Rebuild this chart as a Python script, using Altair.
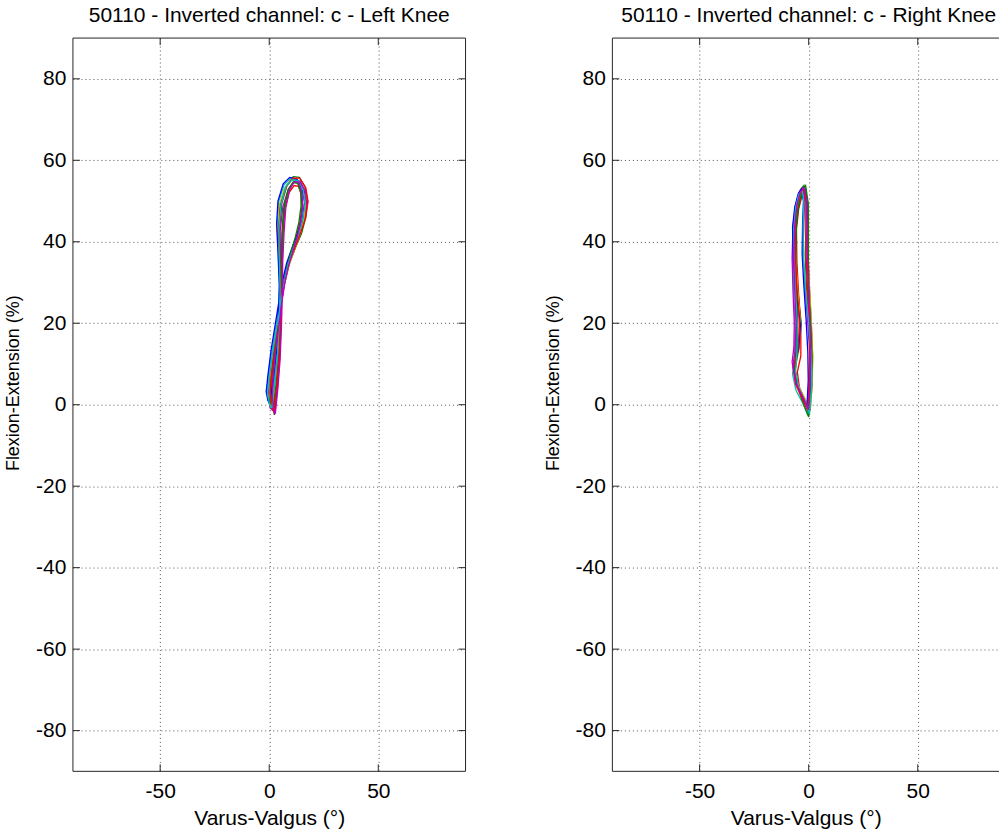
import altair as alt
import pandas as pd

# ---------------- data ----------------
PANELS = ["Left Knee", "Right Knee"]
TITLE_PREFIX = "50110 - Inverted channel: c - "
X_TITLE = "Varus-Valgus (°)"
Y_TITLE = "Flexion-Extension (%)"
X_TICKS = [-50, 0, 50]
Y_TICKS = [-80, -60, -40, -20, 0, 20, 40, 60, 80]
Y_DOMAIN = [-90, 90]
X_DOMAIN_LEFT = [-90, 90]
X_DOMAIN_RIGHT = [-90, 87.25]   # right panel is cut by the picture's edge
COLORS = ["#0000FF", "#008000", "#FF0000", "#00BFBF", "#BF00BF", "#BFBF00", "#404040"]

# Left knee: one pair of lists per gait cycle (Varus-Valgus x, Flexion-Extension y)
L_X1 = [2.0, 3.5, 4.5, 5.0, 5.2, 4.6, 4.2, 5.0, 7.5, 10.5, 13.5, 16.0, 16.8, 15.6, 13.6, 11.0, 8.5, 6.5, 5.0, 3.2, 1.6, 0.4, 0.0, 0.8, 2.0]
L_Y1 = [-1.0, 5.0, 12.0, 20.0, 28.0, 36.0, 43.0, 49.0, 53.5, 55.3, 55.0, 52.5, 49.0, 45.0, 41.5, 38.0, 34.5, 30.0, 25.0, 19.0, 13.0, 7.0, 2.5, -0.5, -1.0]
L_X2 = [1.0, 2.8, 4.0, 4.6, 5.0, 4.8, 4.8, 5.8, 8.2, 11.0, 13.8, 16.4, 17.6, 16.8, 14.8, 12.0, 9.4, 7.2, 5.6, 4.0, 2.6, 1.2, 0.2, 0.2, 1.0]
L_Y2 = [-0.5, 5.5, 12.5, 20.5, 28.5, 36.5, 43.5, 49.5, 54.0, 56.0, 55.8, 53.5, 50.0, 46.0, 42.0, 38.5, 35.0, 30.5, 25.5, 19.5, 13.5, 7.5, 3.0, 0.5, -0.5]
L_X3 = [2.6, 3.8, 4.8, 5.4, 5.8, 6.0, 6.4, 7.2, 9.0, 11.4, 13.4, 14.8, 15.0, 14.0, 12.4, 10.4, 8.4, 6.8, 5.4, 3.8, 2.4, 1.2, 0.8, 1.6, 2.6]
L_Y3 = [-2.0, 4.5, 11.5, 19.5, 27.5, 35.5, 42.5, 48.0, 52.0, 53.8, 53.6, 51.5, 48.5, 44.5, 41.0, 37.5, 34.0, 29.5, 24.5, 18.5, 12.5, 6.5, 2.0, -1.0, -2.0]
L_X4 = [0.6, 2.4, 3.6, 4.4, 4.8, 4.2, 3.6, 4.4, 6.8, 9.8, 12.8, 15.4, 16.4, 15.4, 13.2, 10.6, 8.2, 6.2, 4.8, 3.0, 1.2, -0.4, -1.0, -0.2, 0.6]
L_Y4 = [0.0, 6.0, 13.0, 21.0, 29.0, 37.0, 44.0, 50.0, 54.0, 55.6, 55.2, 52.8, 49.4, 45.4, 41.8, 38.2, 34.6, 30.0, 25.0, 19.0, 13.0, 7.0, 3.0, 0.5, 0.0]
L_X5 = [1.8, 3.0, 4.0, 4.8, 5.4, 5.2, 5.0, 6.2, 8.8, 11.6, 14.2, 16.6, 17.2, 16.0, 13.8, 11.4, 9.0, 7.0, 5.4, 3.6, 1.8, 0.2, -0.6, 0.4, 1.8]
L_Y5 = [-1.5, 4.5, 11.5, 19.5, 27.5, 35.5, 42.5, 48.5, 53.0, 55.0, 54.8, 52.4, 49.0, 45.0, 41.4, 37.8, 34.2, 29.6, 24.6, 18.6, 12.6, 6.6, 2.2, -0.8, -1.5]
L_X6 = [1.4, 3.0, 4.2, 4.8, 5.2, 4.4, 3.8, 4.6, 7.0, 10.0, 13.0, 15.6, 16.6, 15.8, 14.0, 11.6, 9.2, 7.0, 5.2, 3.4, 1.8, 0.6, 0.2, 0.6, 1.4]
L_Y6 = [-1.0, 5.0, 12.0, 20.0, 28.0, 36.0, 43.0, 49.0, 53.2, 55.2, 55.0, 52.6, 49.2, 45.2, 41.6, 38.0, 34.4, 29.8, 24.8, 18.8, 12.8, 6.8, 2.4, -0.4, -1.0]
L_X7 = [2.4, 3.6, 4.6, 5.2, 5.6, 5.6, 5.8, 6.6, 8.6, 11.0, 13.2, 14.8, 15.2, 14.2, 12.4, 10.2, 8.2, 6.6, 5.4, 4.0, 2.6, 1.6, 1.2, 1.8, 2.4]
L_Y7 = [-2.5, 4.0, 11.0, 19.0, 27.0, 35.0, 42.0, 48.0, 52.6, 54.6, 54.4, 52.0, 48.6, 44.6, 41.0, 37.4, 33.8, 29.2, 24.2, 18.2, 12.2, 6.2, 1.8, -1.2, -2.5]
L_X8 = [0.2, 2.0, 3.4, 4.2, 4.6, 4.0, 3.4, 4.0, 6.4, 9.4, 12.6, 15.2, 16.2, 15.2, 13.0, 10.4, 8.0, 6.0, 4.4, 2.6, 0.8, -0.6, -1.4, -0.6, 0.2]
L_Y8 = [0.5, 6.5, 13.5, 21.5, 29.5, 37.5, 44.5, 50.0, 54.2, 55.8, 55.4, 53.0, 49.6, 45.6, 42.0, 38.4, 34.8, 30.2, 25.2, 19.2, 13.2, 7.2, 3.2, 1.0, 0.5]
L_X9 = [1.6, 3.2, 4.4, 5.2, 5.6, 5.8, 6.2, 7.0, 8.8, 11.0, 13.0, 14.4, 14.6, 13.6, 12.0, 10.0, 8.2, 6.8, 5.4, 3.8, 2.2, 0.8, 0.4, 1.0, 1.6]
L_Y9 = [-1.2, 5.2, 12.2, 20.2, 28.2, 36.2, 43.2, 48.8, 52.8, 54.6, 54.4, 52.2, 48.8, 44.8, 41.2, 37.6, 34.0, 29.4, 24.4, 18.4, 12.4, 6.4, 2.0, -0.8, -1.2]
L_X10 = [2.2, 3.4, 4.4, 5.0, 5.4, 4.8, 4.2, 5.2, 7.8, 10.8, 14.0, 16.8, 17.8, 16.6, 14.4, 11.8, 9.2, 7.0, 5.4, 3.8, 2.2, 1.0, 0.4, 1.2, 2.2]
L_Y10 = [-1.8, 4.8, 11.8, 19.8, 27.8, 35.8, 42.8, 48.8, 53.4, 55.6, 55.6, 53.2, 49.8, 45.8, 42.2, 38.6, 35.0, 30.4, 25.4, 19.4, 13.4, 7.4, 2.8, -0.6, -1.8]
L_X11 = [1.2, 2.6, 3.8, 4.6, 5.0, 4.6, 4.4, 5.4, 7.6, 10.4, 13.2, 15.6, 16.4, 15.2, 13.2, 10.8, 8.6, 6.8, 5.2, 3.4, 1.6, 0.0, -0.8, 0.2, 1.2]
L_Y11 = [-0.8, 5.4, 12.4, 20.4, 28.4, 36.4, 43.4, 49.2, 53.4, 55.2, 55.0, 52.6, 49.2, 45.2, 41.6, 38.0, 34.4, 29.8, 24.8, 18.8, 12.8, 6.8, 2.6, 0.0, -0.8]
L_X12 = [2.8, 4.0, 5.0, 5.6, 6.0, 6.2, 6.8, 7.6, 9.4, 11.6, 13.6, 15.0, 15.4, 14.4, 12.8, 10.8, 8.8, 7.0, 5.6, 4.2, 2.8, 1.8, 1.4, 2.0, 2.8]
L_Y12 = [-2.2, 4.2, 11.2, 19.2, 27.2, 35.2, 42.2, 48.4, 52.8, 54.8, 54.6, 52.2, 48.8, 44.8, 41.2, 37.6, 34.0, 29.4, 24.4, 18.4, 12.4, 6.4, 2.0, -1.0, -2.2]

# Right knee
R_X1 = [0.0, 0.8, 1.0, 0.4, -0.4, -0.8, -0.6, -0.8, -1.8, -3.4, -5.0, -6.0, -6.2, -5.8, -5.2, -5.6, -6.4, -5.0, -2.4, 0.0]
R_Y1 = [-2.0, 5.0, 12.0, 20.0, 28.0, 36.0, 44.0, 50.0, 53.4, 52.4, 49.0, 44.0, 36.0, 28.0, 20.0, 13.0, 9.0, 5.0, 2.0, -2.0]
R_X2 = [-0.6, 0.2, 0.6, 0.0, -1.0, -1.6, -1.2, -1.2, -2.2, -3.8, -5.4, -6.6, -6.4, -5.0, -3.4, -4.4, -7.0, -5.8, -3.0, -0.6]
R_Y2 = [-1.0, 5.5, 13.0, 21.0, 29.0, 37.0, 44.5, 50.5, 53.8, 52.8, 49.5, 44.0, 36.0, 28.0, 20.0, 14.0, 10.0, 5.5, 2.0, -1.0]
R_X3 = [0.6, 1.6, 1.8, 1.2, 0.4, -0.2, -0.2, -0.4, -1.6, -3.0, -4.6, -5.6, -5.4, -4.6, -3.6, -3.6, -5.2, -4.2, -2.0, 0.6]
R_Y3 = [-1.5, 5.0, 12.0, 20.0, 28.0, 36.0, 43.5, 49.5, 52.4, 51.4, 48.0, 43.0, 35.0, 27.0, 19.0, 12.0, 8.0, 4.0, 1.5, -1.5]
R_X4 = [-0.4, 0.8, 1.4, 0.8, -0.2, -1.0, -1.0, -1.2, -2.6, -4.2, -5.8, -7.0, -7.2, -6.8, -6.2, -6.6, -7.4, -5.8, -2.8, -0.4]
R_Y4 = [-2.5, 4.0, 11.0, 19.0, 27.0, 35.0, 43.0, 49.0, 52.4, 51.4, 48.0, 43.0, 35.0, 27.0, 19.0, 12.0, 7.5, 3.5, 0.5, -2.5]
R_X5 = [-0.2, 0.4, 0.4, -0.6, -1.8, -2.6, -2.2, -1.8, -2.8, -4.4, -6.0, -7.2, -7.6, -7.2, -6.6, -6.8, -7.6, -6.2, -3.2, -0.2]
R_Y5 = [-0.5, 6.0, 13.5, 21.5, 29.5, 37.5, 45.0, 50.5, 53.2, 52.2, 49.0, 44.0, 36.0, 28.0, 20.0, 14.0, 10.5, 6.0, 2.5, -0.5]
R_X6 = [0.8, 1.6, 1.8, 1.2, 0.4, -0.4, -0.6, -0.8, -2.0, -3.6, -5.2, -6.2, -6.0, -5.0, -3.8, -4.6, -6.2, -5.0, -2.2, 0.8]
R_Y6 = [-1.0, 5.5, 12.5, 20.5, 28.5, 36.5, 44.0, 50.0, 53.0, 52.0, 48.8, 43.8, 35.8, 27.8, 19.8, 13.0, 9.0, 5.0, 2.0, -1.0]
R_X7 = [0.2, 1.0, 1.2, 0.8, 0.0, -0.4, -0.4, -0.6, -1.8, -3.2, -4.8, -5.8, -6.0, -5.6, -5.0, -5.2, -6.2, -5.0, -2.4, 0.2]
R_Y7 = [-2.0, 4.5, 11.5, 19.5, 27.5, 35.5, 43.5, 49.5, 52.8, 51.8, 48.5, 43.5, 35.5, 27.5, 19.5, 12.5, 8.5, 4.5, 1.0, -2.0]
R_X8 = [-0.8, -0.2, -0.4, -1.2, -2.2, -3.0, -2.8, -2.4, -3.4, -4.8, -6.4, -7.4, -7.0, -5.6, -3.8, -4.6, -6.8, -5.8, -3.2, -0.8]
R_Y8 = [-0.5, 6.0, 13.0, 21.0, 29.0, 37.0, 44.5, 50.0, 52.8, 51.8, 48.5, 43.5, 35.5, 27.5, 19.5, 13.5, 9.5, 5.5, 2.0, -0.5]
R_X9 = [0.0, 1.2, 1.6, 1.0, 0.2, -0.2, -0.2, -0.2, -1.4, -2.8, -4.4, -5.6, -6.0, -5.8, -5.4, -5.8, -6.6, -5.2, -2.6, 0.0]
R_Y9 = [-3.0, 4.0, 11.0, 19.0, 27.0, 35.0, 43.0, 49.5, 53.8, 52.8, 49.5, 44.5, 36.5, 28.5, 20.5, 13.5, 9.0, 4.5, 0.5, -3.0]
R_X10 = [-0.4, 0.2, 0.6, 0.2, -0.6, -1.2, -1.2, -1.2, -2.4, -4.0, -5.6, -6.4, -6.2, -5.2, -4.2, -5.0, -7.0, -6.0, -3.0, -0.4]
R_Y10 = [-1.5, 5.0, 12.5, 20.5, 28.5, 36.5, 44.0, 50.0, 52.8, 51.8, 48.5, 43.5, 35.5, 27.5, 19.5, 13.0, 9.0, 5.0, 1.5, -1.5]
R_X11 = [0.4, 1.4, 1.2, 0.0, -1.4, -2.4, -2.6, -2.2, -3.0, -4.6, -6.0, -6.8, -6.6, -6.0, -5.2, -5.4, -6.0, -4.6, -2.0, 0.4]
R_Y11 = [-2.2, 4.8, 12.0, 20.0, 28.0, 36.0, 43.6, 49.6, 52.6, 51.6, 48.4, 43.4, 35.4, 27.4, 19.4, 12.6, 8.2, 4.2, 1.2, -2.2]
R_X12 = [-0.2, 0.6, 1.0, 0.6, 0.0, -0.6, -0.8, -1.0, -2.2, -3.8, -5.4, -6.4, -6.8, -6.4, -5.8, -6.2, -7.2, -5.6, -2.6, -0.2]
R_Y12 = [-1.2, 5.2, 12.4, 20.4, 28.4, 36.4, 44.2, 50.2, 53.2, 52.2, 49.0, 44.0, 36.0, 28.0, 20.0, 13.4, 9.4, 5.0, 1.8, -1.2]

LEFT_CYCLES = [(L_X1, L_Y1), (L_X2, L_Y2), (L_X3, L_Y3), (L_X4, L_Y4), (L_X5, L_Y5), (L_X6, L_Y6),
               (L_X7, L_Y7), (L_X8, L_Y8), (L_X9, L_Y9), (L_X10, L_Y10), (L_X11, L_Y11), (L_X12, L_Y12)]
RIGHT_CYCLES = [(R_X1, R_Y1), (R_X2, R_Y2), (R_X3, R_Y3), (R_X4, R_Y4), (R_X5, R_Y5), (R_X6, R_Y6),
                (R_X7, R_Y7), (R_X8, R_Y8), (R_X9, R_Y9), (R_X10, R_Y10), (R_X11, R_Y11), (R_X12, R_Y12)]

# ---------------- layout / style ----------------
W_LEFT, W_RIGHT, H = 393, 387, 734
TICK_LEN = 7
FONT = "Liberation Sans"
FS = 21
AXIS_COLOR = "#262626"


def cycles_df(cycles):
    rows = []
    for c, (xs, ys) in enumerate(cycles):
        for i, (x, y) in enumerate(zip(xs, ys)):
            rows.append({"cycle": c, "idx": i, "x": x, "y": y})
    return pd.DataFrame(rows)


n_cyc = len(LEFT_CYCLES)
cyc_domain = list(range(n_cyc))
cyc_range = [COLORS[i % len(COLORS)] for i in cyc_domain]

x_axis = alt.Axis(values=X_TICKS, grid=True, gridDash=[1, 3], gridColor="#555555",
                  gridWidth=1, domain=False, ticks=False, tickSize=0,
                  labelExpr="'' + datum.value",
                  labelFont=FONT, labelFontSize=FS, labelColor="#000000", labelPadding=9.5,
                  title=X_TITLE, titleFont=FONT, titleFontSize=FS, titleFontWeight="normal",
                  titleColor="#000000", titlePadding=6)
y_axis = alt.Axis(values=Y_TICKS, grid=True, gridDash=[1, 3], gridColor="#555555",
                  gridWidth=1, domain=False, ticks=False, tickSize=0,
                  labelExpr="'' + datum.value",
                  labelFont=FONT, labelFontSize=FS, labelColor="#000000", labelPadding=7,
                  title=Y_TITLE, titleFont=FONT, titleFontSize=18, titleFontWeight="normal",
                  titleColor="#000000", titleAngle=270, titleAlign="center",
                  titleBaseline="middle", titleX=-59, titleY=345)


def panel(cycles, name, x_domain, width, right_edge, title_dx):
    def xenc():
        return alt.X("x:Q", scale=alt.Scale(domain=x_domain, nice=False, zero=False), axis=x_axis)

    def yenc():
        return alt.Y("y:Q", scale=alt.Scale(domain=Y_DOMAIN, nice=False, zero=False), axis=y_axis)

    df = cycles_df(cycles)
    lines = alt.Chart(df).mark_line(strokeWidth=1.3, clip=True).encode(
        x=xenc(), y=yenc(),
        color=alt.Color("cycle:N", scale=alt.Scale(domain=cyc_domain, range=cyc_range), legend=None),
        detail="cycle:N",
        order="idx:Q",
    )
    xt = pd.DataFrame({"x": X_TICKS})
    yt = pd.DataFrame({"y": Y_TICKS})
    one = pd.DataFrame({"k": [0]})
    st = dict(color=AXIS_COLOR, strokeWidth=1)
    layers = [
        lines,
        alt.Chart(xt).mark_rule(**st).encode(x=xenc(), y=alt.value(H), y2=alt.value(H - TICK_LEN)),
        alt.Chart(xt).mark_rule(**st).encode(x=xenc(), y=alt.value(0), y2=alt.value(TICK_LEN)),
        alt.Chart(yt).mark_rule(**st).encode(y=yenc(), x=alt.value(0), x2=alt.value(TICK_LEN)),
        # box: top, bottom, left
        alt.Chart(one).mark_rule(**st).encode(x=alt.value(0), x2=alt.value(width), y=alt.value(0)),
        alt.Chart(one).mark_rule(**st).encode(x=alt.value(0), x2=alt.value(width), y=alt.value(H)),
        alt.Chart(one).mark_rule(**st).encode(y=alt.value(0), y2=alt.value(H), x=alt.value(0)),
    ]
    if right_edge:
        layers.append(alt.Chart(yt).mark_rule(**st).encode(
            y=yenc(), x=alt.value(width - TICK_LEN), x2=alt.value(width)))
        layers.append(alt.Chart(one).mark_rule(**st).encode(
            y=alt.value(0), y2=alt.value(H), x=alt.value(width)))
    return alt.layer(*layers).properties(
        width=width, height=H,
        title=alt.TitleParams(TITLE_PREFIX + name, font=FONT, fontSize=FS, fontWeight="normal",
                              color="#000000", anchor="middle", frame="group", offset=11.5,
                              dx=title_dx),
    )


chart = alt.hconcat(
    panel(LEFT_CYCLES, PANELS[0], X_DOMAIN_LEFT, W_LEFT, True, 0),
    panel(RIGHT_CYCLES, PANELS[1], X_DOMAIN_RIGHT, W_RIGHT, False, 3),
    spacing=78,
).properties(
    padding={"left": 5, "top": 4.7, "right": 0, "bottom": 0},
    background="#ffffff",
).configure_view(stroke=None)

chart.save("out.html", embed_options={"renderer": "svg", "actions": False})
